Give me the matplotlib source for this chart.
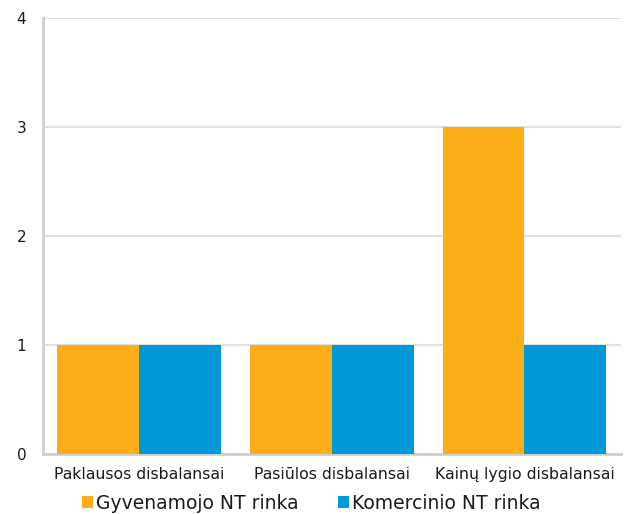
import matplotlib
matplotlib.use("Agg")
import matplotlib.pyplot as plt
import numpy as np

#%% Data ######################################################################
categories = ["Paklausos disbalansai", "Pasiūlos disbalansai", "Kainų lygio disbalansai"]
gyvenamojo = [1, 1, 3]
komercinio = [1, 1, 1]
series_names = ["Gyvenamojo NT rinka", "Komercinio NT rinka"]
colors = ["#FBAE17", "#0098D8"]

#%% Plot ######################################################################
plt.rcParams['font.family'] = ['DejaVu Sans']

fig = plt.figure(figsize=(6.27, 5.14), dpi=100)
ax = fig.add_axes([0.0686, 0.1167, 0.9214, 0.8483])

x = np.arange(len(categories))
w = 0.425
ax.bar(x - w / 2, gyvenamojo, w, color=colors[0], label=series_names[0], zorder=3)
ax.bar(x + w / 2, komercinio, w, color=colors[1], label=series_names[1], zorder=3)

ax.set_xlim(-0.5, len(categories) - 0.5)
ax.set_ylim(0, 4)
ax.set_yticks([0, 1, 2, 3, 4])
ax.set_xticks(x)
ax.set_xticklabels(categories, fontsize=11.3, color='#1a1a1a')
ax.tick_params(axis='y', labelsize=11, length=0, pad=12, labelcolor='#1a1a1a')
ax.tick_params(axis='x', length=0, pad=9)

ax.grid(axis='y', color='#D9D9D9', linewidth=1.2, zorder=0)
for s in ['top', 'right']:
    ax.spines[s].set_visible(False)
ax.spines['left'].set_color('#CFCFCF')
ax.spines['left'].set_linewidth(2)
ax.spines['bottom'].set_color('#CFCFCF')
ax.spines['bottom'].set_linewidth(2)

fig.legend(loc='center', bbox_to_anchor=(0.497, 0.021), ncol=2, frameon=False,
           fontsize=13.5, handlelength=0.55, handleheight=0.55, handletextpad=0.2,
           columnspacing=2.1, borderpad=0, labelcolor='#1a1a1a')

fig.savefig("out.png", dpi=100)
